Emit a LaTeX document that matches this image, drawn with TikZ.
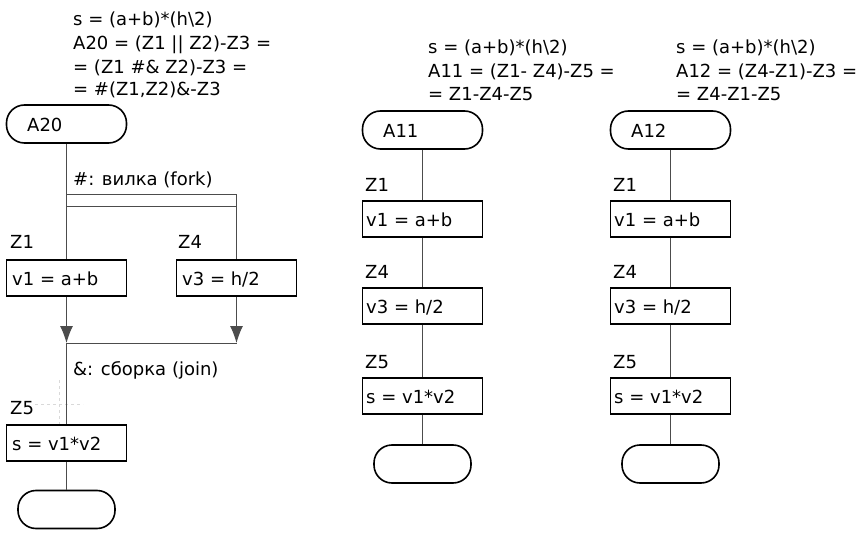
\documentclass[tikz,border=0pt]{standalone}
\usepackage{fontspec}
\setmainfont{DejaVu Sans}
\usetikzlibrary{arrows.meta}
\begin{document}
\begin{tikzpicture}[x=1pt,y=-1pt,
  txt/.style={anchor=west,inner sep=0pt,font=\fontsize{18}{21}\selectfont},
  term/.style={draw=black,line width=1.6pt,rounded corners=18pt,minimum width=120pt,minimum height=38pt,inner sep=0pt},
  opbox/.style={draw=black,line width=1.6pt,minimum width=120pt,minimum height=36pt,inner sep=0pt},
  conn/.style={draw=black!70,line width=1pt},
  tip/.style={-{Latex[length=17pt,width=13pt]}}]
\useasboundingbox (0,0) rectangle (859,545);
% ---------- left column
\node[txt] (t1) at (73,20) {s = (a+b)*(h\textbackslash2)};
\node[txt] (t2) at (73,45) {A20 = (Z1 || Z2)-Z3 =};
\node[txt] (t3) at (73,68) {= (Z1 \#\& Z2)-Z3 =};
\node[txt] (t4) at (73,90) {= \#(Z1,Z2)\&-Z3};
\node[term] (a20) at (66.5,124) {};
\node[txt] at (27,125) {A20};
\node[txt] (fk) at (73,180) {\#: вилка (fork)};
\coordinate (f1) at (66.5,195); \coordinate (f2) at (236.5,195);
\coordinate (f3) at (236.5,207); \coordinate (f4) at (66.5,207);
\node[txt] (lz1) at (10,242) {Z1};
\node[opbox] (b1) at (66.5,278) {};
\node[txt] at (12,279) {v1 = a+b};
\node[txt] (lz4) at (178,242) {Z4};
\node[opbox] (b4) at (236.5,278) {};
\node[txt] at (182,279) {v3 = h/2};
\coordinate (j1) at (66.5,343); \coordinate (j2) at (236.5,343);
\node[txt] (jn) at (73,370) {\&: сборка (join)};
\draw[black!15,line width=1pt,dashed] (59,380) -- (59,424) (35,404) -- (83,404);
\node[txt] (lz5) at (10,408) {Z5};
\node[opbox] (b5) at (66.5,443) {};
\node[txt] at (12,444) {s = v1*v2};
\node[term,minimum width=97pt] (e20) at (66.5,509.5) {};
\draw[conn] (a20.south) -- (f1) -- (f2) -- (f3) -- (f4);
\draw[conn] (f1) -- (b1.north);
\draw[conn] (f3) -- (b4.north);
\draw[conn,tip] (b1.south) -- (j1);
\draw[conn,tip] (b4.south) -- (j2);
\draw[conn] (j1) -- (j2);
\draw[conn] (j1) -- (b5.north);
\draw[conn] (b5.south) -- (e20.north);
% ---------- middle column
\node[txt] at (428,48) {s = (a+b)*(h\textbackslash2)};
\node[txt] at (428,72) {A11 = (Z1- Z4)-Z5 =};
\node[txt] at (428,94) {= Z1-Z4-Z5};
\node[term] (a11) at (422.5,130) {};
\node[txt] at (383,131) {A11};
\node[txt] at (365,185) {Z1};
\node[opbox] (m1) at (422.5,219) {};
\node[txt] at (366,220) {v1 = a+b};
\node[txt] at (365,272) {Z4};
\node[opbox] (m4) at (422.5,306) {};
\node[txt] at (366,307) {v3 = h/2};
\node[txt] at (365,362) {Z5};
\node[opbox] (m5) at (422.5,396) {};
\node[txt] at (366,397) {s = v1*v2};
\node[term,minimum width=97pt] (e11) at (422.5,464) {};
\draw[conn] (a11.south) -- (m1.north) (m1.south) -- (m4.north)
  (m4.south) -- (m5.north) (m5.south) -- (e11.north);
% ---------- right column
\node[txt] at (676,48) {s = (a+b)*(h\textbackslash2)};
\node[txt] at (676,72) {A12 = (Z4-Z1)-Z3 =};
\node[txt] at (676,94) {= Z4-Z1-Z5};
\node[term] (a12) at (670.5,130) {};
\node[txt] at (631,131) {A12};
\node[txt] at (613,185) {Z1};
\node[opbox] (r1) at (670.5,219) {};
\node[txt] at (614,220) {v1 = a+b};
\node[txt] at (613,272) {Z4};
\node[opbox] (r4) at (670.5,306) {};
\node[txt] at (614,307) {v3 = h/2};
\node[txt] at (613,362) {Z5};
\node[opbox] (r5) at (670.5,396) {};
\node[txt] at (614,397) {s = v1*v2};
\node[term,minimum width=97pt] (e12) at (670.5,464) {};
\draw[conn] (a12.south) -- (r1.north) (r1.south) -- (r4.north)
  (r4.south) -- (r5.north) (r5.south) -- (e12.north);
\end{tikzpicture}
\end{document}
